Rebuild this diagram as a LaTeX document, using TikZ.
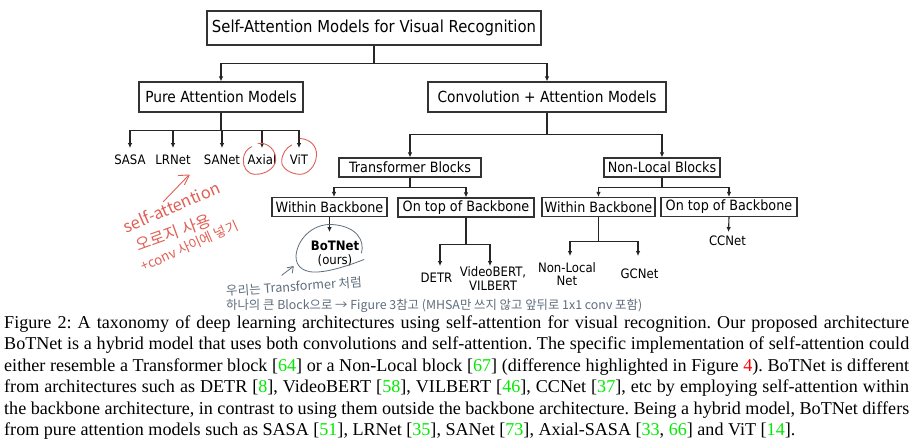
\documentclass[tikz,border=0pt]{standalone}
\usepackage{fontspec}
\setmainfont{Liberation Serif}
\newfontfamily\dvfont{DejaVu Sans}[FakeStretch=0.9]
\newfontfamily\krfont{Noto Sans CJK KR}
\usetikzlibrary{arrows.meta}
\definecolor{citegreen}{RGB}{0,235,0}
\definecolor{penred}{RGB}{225,95,85}
\definecolor{pengray}{RGB}{95,110,125}
\newcommand\citeg[1]{\textcolor{citegreen}{#1}}
\frenchspacing
\begin{document}
\begin{tikzpicture}[x=1pt,y=-1pt,
  boxbase/.style={draw=black!80, line width=1.2pt, inner sep=0pt},
  tbox/.style={boxbase, minimum height=34pt, font=\dvfont\fontsize{16.5}{18}\selectfont},
  mbox/.style={boxbase, minimum height=30pt, font=\dvfont\fontsize{15.3}{17}\selectfont},
  sbox/.style={boxbase, minimum height=19pt, font=\dvfont\fontsize{14.2}{16}\selectfont},
  leaf/.style={inner sep=0pt, align=center, font=\dvfont\fontsize{13}{13.4}\selectfont},
  conn/.style={draw=black!85, line width=1.1pt, -{Latex[length=5pt,width=4.6pt]}},
  redpen/.style={draw=penred, line width=0.9pt, line cap=round, line join=round},
  graypen/.style={draw=pengray, line width=0.8pt, line cap=round, line join=round},
  capline/.style={inner sep=0pt, anchor=base west, font=\fontsize{18.1}{21.5}\selectfont}
]
\useasboundingbox[fill=white] (0,0) rectangle (913,440);

% ---- boxes
\node[tbox, minimum width=334pt] (top) at (374,28) {Self-Attention Models for Visual Recognition};
\node[mbox, minimum width=164pt] (pure) at (221,97) {Pure Attention Models};
\node[mbox, minimum width=238pt] (conv) at (547,97) {Convolution + Attention Models};
\node[sbox, minimum width=142pt] (trans) at (410,167.5) {Transformer Blocks};
\node[sbox, minimum width=116pt] (nlb) at (662,167.5) {Non-Local Blocks};
\node[sbox, minimum width=115pt] (wb1) at (329.5,207) {Within Backbone};
\node[sbox, minimum width=136pt] (ot1) at (466,207.5) {On top of Backbone};
\node[sbox, minimum width=113pt] (wb2) at (598.5,207) {Within Backbone};
\node[sbox, minimum width=136pt] (ot2) at (729,207) {On top of Backbone};

% ---- leaves
\node[leaf] (sasa) at (130,160) {SASA};
\node[leaf] (lrnet) at (173,160) {LRNet};
\node[leaf] (sanet) at (222,160) {SANet};
\node[leaf] (axial) at (262,160) {Axial};
\node[leaf] (vit) at (299,160) {ViT};
\node[leaf] (bot) at (335,253.7) {\textbf{BoTNet}\\(ours)};
\node[leaf] (detr) at (436.5,277.5) {DETR};
\node[leaf] (vbert) at (493,278.7) {VideoBERT,\\VILBERT};
\node[leaf] (nln) at (567,274) {Non-Local\\Net};
\node[leaf] (gcn) at (639.5,274) {GCNet};
\node[leaf] (ccn) at (727.5,240.7) {CCNet};

% ---- arrow end points
\coordinate (yleaf) at (0,148);
\coordinate (botIn) at (329.5,232);
\coordinate (detrIn) at (440,266);
\coordinate (vbertIn) at (490,266);
\coordinate (nlnIn) at (570,256);
\coordinate (gcnIn) at (638,256);
\coordinate (ccnIn) at (728.5,232);

% ---- connectors
\draw[conn] (top.south) -- ++(0,18) -| (pure.north);
\draw[conn] (top.south) -- ++(0,18) -| (conv.north);
\foreach \lf in {sasa,lrnet,sanet,axial,vit}
  \draw[conn] (pure.south) -- ++(0,18) -| (\lf |- yleaf);
\draw[conn] (conv.south) -- ++(0,22) -| (trans.north);
\draw[conn] (conv.south) -- ++(0,22) -| (nlb.north);
\draw[conn] (trans.south) -- ++(0,10) -| ([xshift=4.5pt]wb1.north);
\draw[conn] (trans.south) -- ++(0,10) -| (ot1.north);
\draw[conn] (nlb.south) -- ++(0,10) -| (wb2.north);
\draw[conn] (nlb.south) -- ++(0,10) -| (ot2.north);
\draw[conn] (wb1.south) -- (botIn);
\draw[conn] (ot1.south) -- ++(0,27) -| (detrIn);
\draw[conn] (ot1.south) -- ++(0,27) -| (vbertIn);
\draw[conn] (wb2.south) -- ++(0,24) -| (nlnIn);
\draw[conn] (wb2.south) -- ++(0,24) -| (gcnIn);
\draw[conn] (ot2.south) -- (ccnIn);

% ---- red handwriting
\draw[redpen] (258,143.5) .. controls (268,142) and (276,150) .. (275.7,160)
  .. controls (275,168) and (266,174.5) .. (255,174.3)
  .. controls (247,174) and (243,167) .. (243.3,160)
  .. controls (243.5,153) and (247,149) .. (251.7,146.7);
\draw[redpen] (300,138.5) .. controls (310,139) and (317,146) .. (316.5,155)
  .. controls (316,166) and (308,174.3) .. (300,174.3)
  .. controls (290,174) and (281.7,168) .. (281.7,161.7)
  .. controls (281.7,154) and (286,148) .. (291.7,145);
\draw[redpen] (163.3,201.7) -- (187.5,176.5);
\draw[redpen] (178.3,175.5) -- (189.3,175) -- (184.5,184.5);
\node[text=penred, inner sep=0pt, rotate=23] (redA) at (171.5,207) {\resizebox{103pt}{!}{\krfont self-attention}};
\node[text=penred, inner sep=0pt, rotate=20] (redB) at (173.3,232.7) {\resizebox{78pt}{!}{\krfont 오로지 사용}};
\node[text=penred, inner sep=0pt, rotate=24] (redC) at (189.5,246) {\resizebox{105pt}{!}{\krfont +conv 사이에 넣기}};

% ---- gray handwriting
\draw[graypen] (361.5,253) .. controls (365,240) and (356,226) .. (332,224.5)
  .. controls (312,223.5) and (297,240) .. (296,256)
  .. controls (295.5,268) and (306,273) .. (318,272)
  .. controls (332,271) and (350,265) .. (364,259.5);
\draw[graypen] (281.7,275.3) -- (292.5,267);
\draw[graypen] (287,267.8) -- (293.3,266.5) -- (292.3,273);
\node[text=pengray, inner sep=0pt, rotate=4] (grayA) at (294,286.5) {\resizebox{136pt}{!}{\krfont 우리는 Transformer 처럼}};
\node[text=pengray, inner sep=0pt, anchor=west] (grayB) at (226,306) {\resizebox{416pt}{!}{\krfont 하나의 큰 Block으로 → Figure 3참고 (MHSA만 쓰지 않고 앞뒤로 1x1 conv 포함)}};

% ---- caption
\node[capline] (c1) at (4,328.3) {\makebox[905pt][s]{Figure 2: A taxonomy of deep learning architectures using self-attention for visual recognition. Our proposed architecture}};
\node[capline] (c2) at (4,349.8) {\makebox[905pt][s]{BoTNet is a hybrid model that uses both convolutions and self-attention. The specific implementation of self-attention could}};
\node[capline] (c3) at (4,371.3) {\makebox[905pt][s]{either resemble a Transformer block [\citeg{64}] or a Non-Local block [\citeg{67}] (difference highlighted in Figure \textcolor{red}{4}). BoTNet is different}};
\node[capline] (c4) at (4,392.8) {\makebox[905pt][s]{from architectures such as DETR [\citeg{8}], VideoBERT [\citeg{58}], VILBERT [\citeg{46}], CCNet [\citeg{37}], etc by employing self-attention within}};
\node[capline] (c5) at (4,414.3) {\makebox[905pt][s]{the backbone architecture, in contrast to using them outside the backbone architecture. Being a hybrid model, BoTNet differs}};
\node[capline] (c6) at (4,435.8) {from pure attention models such as SASA [\citeg{51}], LRNet [\citeg{35}], SANet [\citeg{73}], Axial-SASA [\citeg{33}, \citeg{66}] and ViT [\citeg{14}].};
\end{tikzpicture}
\end{document}
